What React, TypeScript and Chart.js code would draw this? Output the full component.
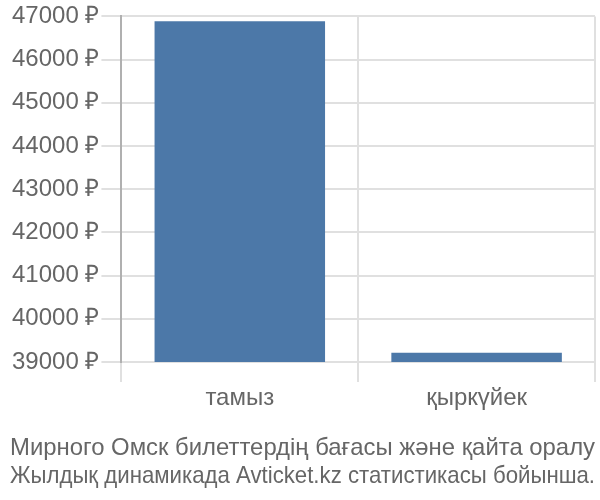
import React, { useEffect, useRef } from "react";
import { Chart, registerables } from "chart.js";

Chart.register(...registerables);

const categories = ["тамыз", "қыркүйек"];
const prices = [46885, 39214];
const yMin = 39000;
const yMax = 47000;
const yStep = 1000;
const titleLines = [
  "Мирного Омск билеттердің бағасы және қайта оралу",
  "Жылдық динамикада Avticket.kz статистикасы бойынша.",
];

const FONT = "'Liberation Sans', Arial, sans-serif";

export default function App() {
  const ref = useRef<HTMLCanvasElement | null>(null);
  useEffect(() => {
    if (!ref.current) return;
    const chart = new Chart(ref.current, {
      type: "bar",
      data: {
        labels: categories,
        datasets: [
          {
            data: prices,
            backgroundColor: "#4c78a8",
            borderWidth: 0,
          },
        ],
      },
      options: {
        animation: false,
        responsive: false,
        maintainAspectRatio: false,
        layout: { padding: { left: 10, right: 5, top: 1, bottom: 0 } },
        plugins: {
          legend: { display: false },
          tooltip: { enabled: false },
          title: {
            display: true,
            text: titleLines,
            position: "bottom",
            color: "#666666",
            font: { family: FONT, size: 24, weight: "normal", lineHeight: 1.17 },
            padding: { top: 19, bottom: 10 },
          },
        },
        scales: {
          x: {
            grid: {
              color: "#e0e0e0",
              lineWidth: 2,
              offset: true,
              tickLength: 20,
              drawTicks: true,
            },
            border: { color: "#c8c8c8", width: 0 },
            ticks: {
              color: "#666666",
              font: { family: FONT, size: 24 },
              padding: 2,
            },
          },
          y: {
            min: yMin,
            max: yMax,
            grid: { color: "#e0e0e0", lineWidth: 2, tickLength: 20 },
            border: { color: "#b0b0b0", width: 2 },
            ticks: {
              stepSize: yStep,
              color: "#666666",
              font: { family: FONT, size: 24 },
              padding: 2,
              callback: (v: any) => `${v} ₽`,
            },
          },
        },
      },
    });
    return () => chart.destroy();
  }, []);
  return (
    <div style={{ position: "fixed", left: 0, top: 0, width: 600, height: 500, background: "#fff" }}>
      <canvas ref={ref} width={600} height={500} style={{ width: 600, height: 500 }} />
    </div>
  );
}
